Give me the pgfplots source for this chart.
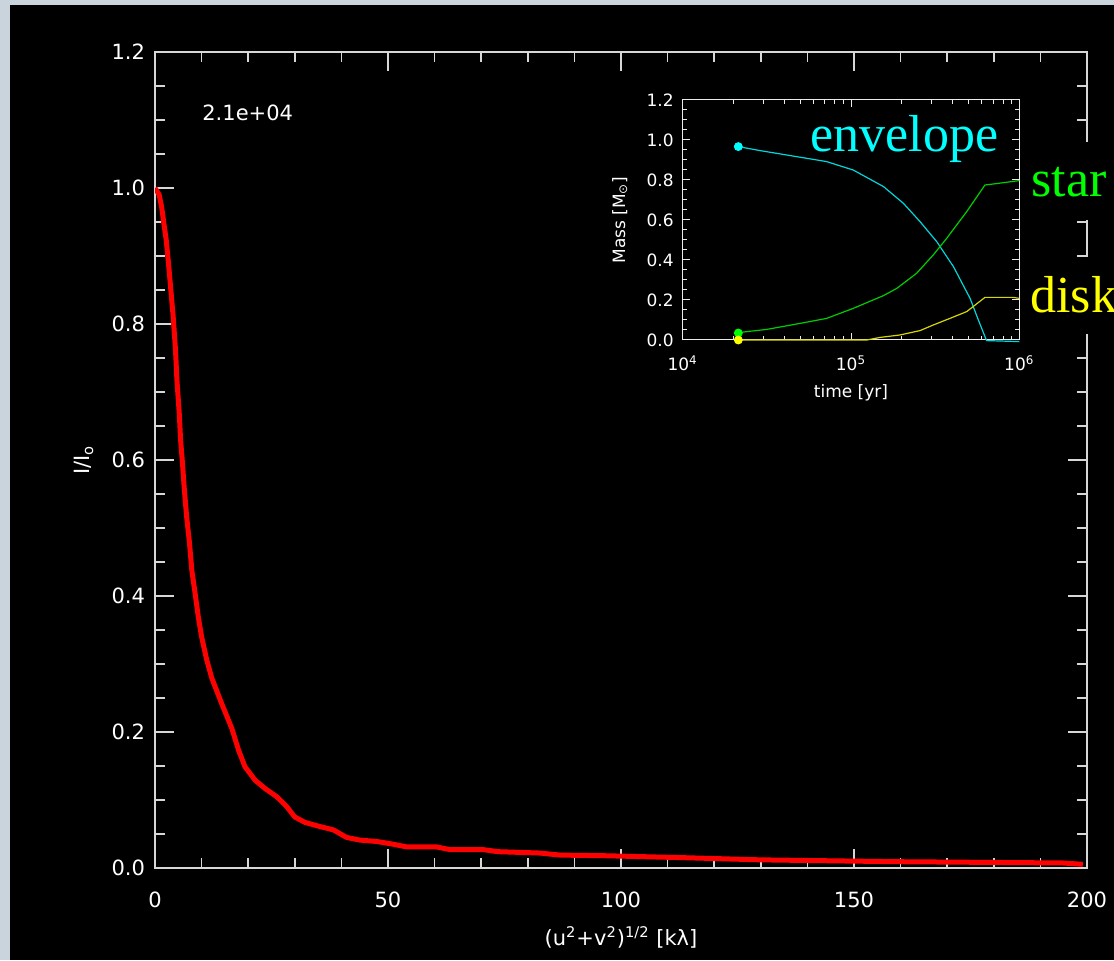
\documentclass[border=0pt]{standalone}
\usepackage{pgfplots}
\pgfplotsset{compat=1.18}
\usepackage{fontspec}
\setmainfont{DejaVu Sans}
\newfontfamily\serifbig{Liberation Serif}
\definecolor{bgframe}{RGB}{201,212,220}
\definecolor{axgray}{RGB}{215,215,215}
\definecolor{envc}{RGB}{0,215,220}
\definecolor{starc}{RGB}{0,205,0}
\definecolor{diskc}{RGB}{215,215,0}
\definecolor{cyanT}{RGB}{0,255,255}
\definecolor{greenT}{RGB}{0,255,0}
\definecolor{yellowT}{RGB}{255,255,0}

\pgfplotstableread{
x y
0 1.000
0.9 0.990
1.4 0.973
1.9 0.948
2.4 0.924
2.9 0.889
3.4 0.850
3.9 0.811
4.4 0.762
4.7 0.718
5.2 0.669
5.5 0.629
5.9 0.595
6.3 0.556
6.8 0.516
7.4 0.478
7.9 0.438
8.6 0.404
9.3 0.369
10.0 0.340
11.1 0.306
12.2 0.279
14.3 0.242
16.5 0.205
17.9 0.174
19.3 0.149
21.5 0.129
23.6 0.117
26.1 0.105
28.3 0.090
30.0 0.075
32.2 0.067
35.4 0.061
38.3 0.056
41.1 0.045
44.0 0.041
47.6 0.039
51.1 0.035
54.0 0.031
60.4 0.031
63.3 0.027
70.5 0.027
73.6 0.024
82.6 0.022
86.9 0.019
96.9 0.018
114.4 0.015
129.8 0.012
158.8 0.0093
194.8 0.0074
199.1 0.0054
}\maindata

\pgfplotstableread{
t m
2.14e4 0.967
2.88e4 0.947
4.15e4 0.925
7.16e4 0.892
1.03e5 0.850
1.56e5 0.767
2.05e5 0.683
2.57e5 0.592
3.23e5 0.492
4.06e5 0.367
5.10e5 0.208
5.71e5 0.100
6.39e5 -0.003
1.0e6 -0.008
}\envdata

\pgfplotstableread{
t m
2.14e4 0.037
3.16e4 0.053
4.98e4 0.083
7.16e4 0.108
1.03e5 0.158
1.56e5 0.222
1.87e5 0.258
2.45e5 0.333
3.08e5 0.425
3.70e5 0.508
4.87e5 0.642
6.25e5 0.775
7.01e5 0.780
1.0e6 0.797
}\stardata

\pgfplotstableread{
t m
2.14e4 0.0
1.24e5 0.0
1.49e5 0.013
1.95e5 0.025
2.57e5 0.047
3.08e5 0.075
3.87e5 0.108
4.87e5 0.142
6.25e5 0.213
9.20e5 0.213
1.0e6 0.208
}\diskdata

\begin{document}
\begin{tikzpicture}
\useasboundingbox (0,0) rectangle (557pt,480pt);
\fill[bgframe] (0,0) rectangle (557pt,480pt);
\fill[black] (5pt,0) rectangle (557pt,477.5pt);

\begin{axis}[
  at={(77.5pt,46pt)}, anchor=south west,
  scale only axis, width=466pt, height=408pt,
  xmin=0, xmax=200, ymin=0, ymax=1.2,
  xtick={0,50,100,150,200}, minor x tick num=4,
  ytick={0,0.2,0.4,0.6,0.8,1.0,1.2}, minor y tick num=3,
  axis line style={axgray, line width=0.8pt},
  tick style={axgray, line width=0.8pt},
  major tick length=9.5pt, minor tick length=5pt,
  tick align=inside,
  /pgf/number format/assume math mode=true,
  ticklabel style={white, font=\fontsize{10.5}{12}\selectfont},
  y tick label style={/pgf/number format/fixed, /pgf/number format/fixed zerofill, /pgf/number format/precision=1, xshift=-1.5pt},
  x tick label style={yshift=-8.5pt},
  xlabel={(u\textsuperscript{2}+v\textsuperscript{2})\textsuperscript{1/2} [kλ]},
  ylabel={I/I\textsubscript{o}},
  label style={white, font=\fontsize{10.5}{12}\selectfont},
  xlabel style={at={(axis description cs:0.5,-0.0846)}, anchor=center},
  ylabel style={at={(axis description cs:-0.0762,0.5)}, anchor=center},
]
\addplot[red, line width=2.5pt, line join=round] table[x=x,y=y] {\maindata};
\node[anchor=west, white, font=\fontsize{10.5}{12}\selectfont, inner sep=0pt] at (rel axis cs:0.0504,0.926) {2.1e+04};
\end{axis}

\begin{axis}[
  at={(341.35pt,310pt)}, anchor=south west,
  scale only axis, width=168.3pt, height=120pt,
  xmode=log, xmin=1e4, xmax=1e6, ymin=0, ymax=1.2,
  xtick={1e4,1e5,1e6},
  xticklabels={10\textsuperscript{4},10\textsuperscript{5},10\textsuperscript{6}},
  ytick={0,0.2,0.4,0.6,0.8,1.0,1.2}, minor y tick num=3,
  axis background/.style={fill=black},
  axis line style={white!92!black, line width=0.5pt},
  tick style={white!92!black, line width=0.5pt},
  major tick length=3.5pt, minor tick length=2pt,
  tick align=inside,
  clip=false,
  /pgf/number format/assume math mode=true,
  ticklabel style={white, font=\fontsize{8.5}{9}\selectfont},
  y tick label style={/pgf/number format/fixed, /pgf/number format/fixed zerofill, /pgf/number format/precision=1, xshift=-1pt},
  x tick label style={yshift=-4.5pt},
  xlabel={time [yr]},
  ylabel={Mass [M\textsubscript{⊙}]},
  label style={white, font=\fontsize{8.5}{9}\selectfont},
  xlabel style={at={(axis description cs:0.5,-0.22)}, anchor=center},
  ylabel style={at={(axis description cs:-0.187,0.5)}, anchor=center},
]
\addplot[envc, line width=0.6pt] table[x=t,y=m] {\envdata};
\addplot[starc, line width=0.6pt] table[x=t,y=m] {\stardata};
\addplot[diskc, line width=0.6pt] table[x=t,y=m] {\diskdata};
\addplot[only marks, mark=*, mark size=2pt, cyanT] coordinates {(2.14e4,0.967)};
\addplot[only marks, mark=*, mark size=2pt, greenT] coordinates {(2.14e4,0.035)};
\addplot[only marks, mark=*, mark size=2pt, yellowT] coordinates {(2.14e4,0.0)};
\end{axis}

\node[anchor=base west, inner sep=0pt, text=cyanT, font=\serifbig\fontsize{26}{28}\selectfont] at (405pt,404pt) {envelope};
\node[anchor=base west, fill=black, inner xsep=5pt, inner ysep=0pt, text height=27.5pt, text depth=11.5pt, text=greenT, font=\serifbig\fontsize{26}{28}\selectfont] at (510.5pt,381.5pt) {star};
\node[anchor=base west, fill=black, inner xsep=5pt, inner ysep=0pt, text height=28pt, text depth=10.5pt, text=yellowT, font=\serifbig\fontsize{26}{28}\selectfont] at (510pt,323.7pt) {disk};
\end{tikzpicture}
\end{document}
